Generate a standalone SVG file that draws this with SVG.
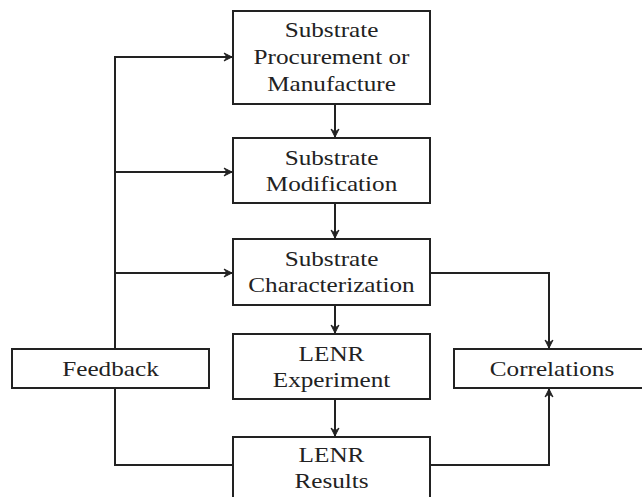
<svg xmlns="http://www.w3.org/2000/svg" width="642" height="497" viewBox="0 0 642 497">
<style>
.box{fill:#fff;stroke:#222;stroke-width:2}
.t{font-family:"Liberation Serif","Times New Roman",serif;font-size:21px;fill:#222;text-anchor:middle}
.c{fill:none;stroke:#222;stroke-width:2}
</style>
<defs>
<marker id="ah" markerWidth="10" markerHeight="10" refX="9" refY="5" orient="auto" markerUnits="userSpaceOnUse">
<path d="M1,1 L9,5 L1,9 L4,5 Z" fill="#222" stroke="#222" stroke-width="1" stroke-linejoin="round"/>
</marker>
</defs>
<g id="connectors">
<path class="c" d="M115,349 V57 H232" marker-end="url(#ah)"/>
<path class="c" d="M115,172 H232" marker-end="url(#ah)"/>
<path class="c" d="M115,273 H232" marker-end="url(#ah)"/>
<path class="c" d="M115,388 V465 H233"/>
<path class="c" d="M335,104 V137" marker-end="url(#ah)"/>
<path class="c" d="M335,203 V238" marker-end="url(#ah)"/>
<path class="c" d="M335,305 V333" marker-end="url(#ah)"/>
<path class="c" d="M335,399 V436" marker-end="url(#ah)"/>
<path class="c" d="M430,273 H549 V348" marker-end="url(#ah)"/>
<path class="c" d="M430,465 H549 V389" marker-end="url(#ah)"/>
</g>
<g id="n1">
<rect class="box" x="233" y="11" width="197" height="93"/>
<text class="t" transform="translate(331.5 0) scale(1.2 1)"><tspan x="0" y="37">Substrate</tspan><tspan x="0" y="64">Procurement or</tspan><tspan x="0" y="91">Manufacture</tspan></text>
</g>
<g id="n2">
<rect class="box" x="233" y="138" width="197" height="65"/>
<text class="t" transform="translate(331.5 0) scale(1.2 1)"><tspan x="0" y="165">Substrate</tspan><tspan x="0" y="191">Modification</tspan></text>
</g>
<g id="n3">
<rect class="box" x="233" y="239" width="197" height="66"/>
<text class="t" transform="translate(331.5 0) scale(1.2 1)"><tspan x="0" y="266">Substrate</tspan><tspan x="0" y="292">Characterization</tspan></text>
</g>
<g id="n4">
<rect class="box" x="233" y="334" width="197" height="65"/>
<text class="t" transform="translate(331.5 0) scale(1.2 1)"><tspan x="0" y="361">LENR</tspan><tspan x="0" y="387">Experiment</tspan></text>
</g>
<g id="n5">
<rect class="box" x="233" y="437" width="197" height="80"/>
<text class="t" transform="translate(331.5 0) scale(1.2 1)"><tspan x="0" y="462">LENR</tspan><tspan x="0" y="488">Results</tspan></text>
</g>
<g id="feedback">
<rect class="box" x="12" y="349" width="197" height="39"/>
<text class="t" transform="translate(110.5 0) scale(1.2 1)"><tspan x="0" y="376">Feedback</tspan></text>
</g>
<g id="correlations">
<rect class="box" x="454" y="349" width="200" height="39"/>
<text class="t" transform="translate(552 0) scale(1.2 1)"><tspan x="0" y="376">Correlations</tspan></text>
</g>
</svg>
